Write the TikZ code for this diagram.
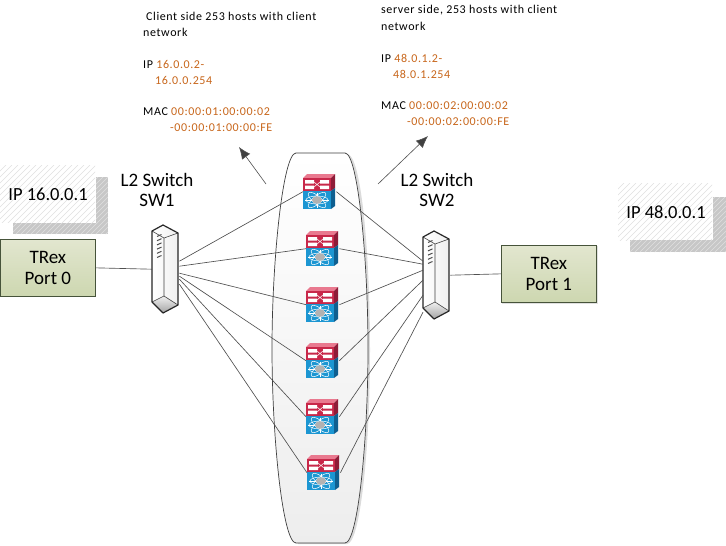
\documentclass[tikz,border=0pt]{standalone}
\usepackage{fontspec}
\setmainfont{Carlito}
\newfontfamily\spacedfont[LetterSpace=5]{Carlito}
\usetikzlibrary{arrows.meta,shadings}
\definecolor{orangetxt}{HTML}{C8661B}
\definecolor{boxtop}{HTML}{E2E6CF}
\definecolor{boxbot}{HTML}{CDD7B0}
\definecolor{boxline}{HTML}{46533A}
\definecolor{wire}{HTML}{505050}
\definecolor{redf}{HTML}{C8284A}
\definecolor{reds}{HTML}{8E1C38}
\definecolor{redt}{HTML}{E9798F}
\definecolor{bluef}{HTML}{1C96D2}
\definecolor{blues}{HTML}{0F5F90}
\tikzset{
  x=1pt,y=-1pt,
  trexbox/.style={draw=boxline,line width=.7pt,top color=boxtop,bottom color=boxbot,minimum width=95pt,minimum height=57pt,inner sep=0pt,font=\fontsize{19}{21}\selectfont,align=center},
  switchbox/.style={minimum width=27pt,minimum height=88pt,inner sep=0pt},
  routerbox/.style={minimum width=33pt,minimum height=35pt,inner sep=0pt},
  wirelink/.style={draw=wire,line width=.65pt},
  bigarrow/.style={draw=wire,line width=.6pt,-{Latex[length=12pt,width=10pt,fill=black!75]}},
  switchlabel/.style={font=\fontsize{19}{20}\selectfont,align=center,inner sep=0pt},
  iplabel/.style={font=\fontsize{18.5}{20}\selectfont,inner sep=0pt},
  smalltext/.style={font=\spacedfont\fontsize{12}{16}\selectfont,anchor=west,inner sep=0pt},
}
\newcommand{\routericon}[3]{%
  \node[routerbox,anchor=north west] (#1) at (#2,#3) {};
  \begin{scope}[shift={(#2,#3)}]
    \fill[redt] (0,4) -- (4,0) -- (32,0) -- (28,4) -- cycle;
    \fill[redf] (0,4) rectangle (28,17);
    \fill[reds] (28,4) -- (32,0) -- (32,14) -- (28,17) -- cycle;
    \fill[white] (2,6) rectangle (11,9.5) (17,6) rectangle (26,9.5) (2,11.5) rectangle (11,15) (17,11.5) rectangle (26,15);
    \draw[white,line width=.5pt] (11,8) -- (17,13) (11,13) -- (17,8);
    \fill[bluef] (0,17) rectangle (28,35);
    \fill[blues] (28,17) -- (32,14) -- (32,32) -- (28,35) -- cycle;
    \draw[white,line width=.5pt] (14,26) ellipse [x radius=11,y radius=4] ;
    \draw[white,line width=.5pt,rotate around={40:(14,26)}] (14,26) ellipse [x radius=11,y radius=4];
    \draw[white,line width=.5pt,rotate around={-40:(14,26)}] (14,26) ellipse [x radius=11,y radius=4];
    \draw[white,line width=.9pt] (2,26) -- (26,26) (14,18.5) -- (14,33.5);
    \fill[black!30] (14,26) ellipse [x radius=5,y radius=3.8];
  \end{scope}}
\newcommand{\switchicon}[3]{%
  \node[switchbox,anchor=north west] (#1) at (#2,#3) {};
  \begin{scope}[shift={(#2,#3)}]
    \shade[left color=white,right color=black!6] (0,6) -- (11,0) -- (26,8) -- (26,80) -- (11,88) -- (0,77) -- cycle;
    \shade[top color=black!6,bottom color=black!35] (0.5,77) -- (12,71) -- (25.5,80) -- (11,87.5) -- cycle;
    \draw[black!75,line width=.6pt] (0,6) -- (12,13) -- (26,8) (12,13) -- (12,71) -- (26,80) (12,71) -- (0,77);
    \draw[black!85,line width=1.2pt,line join=round] (0,6) -- (11,0) -- (26,8) -- (26,80) -- (11,88) -- (0,77) -- cycle;
    \foreach \k in {0,1,2,3,4,5}
      \draw[black!70,line width=1pt] (5,{11.5+\k*4.2}) -- (9.5,{9.5+\k*4.2});
  \end{scope}}
\newcommand{\hatchbox}[4]{%
  \begin{scope}
    \clip (#1,#2) rectangle (#3,#4);
    \foreach \k in {0,6,...,170}
      \draw[black!12,line width=.5pt] ({#1+\k},#2) -- ({#1+\k-60},{#2+60});
  \end{scope}}
\begin{document}
\begin{tikzpicture}
\useasboundingbox (0,0) rectangle (726,546);
\fill[white] (0,0) rectangle (726,546);

% hatched shadows
\hatchbox{0}{165}{95}{222}
\begin{scope}
  \clip (96,177) -- (108,177) -- (108,234) -- (13,234) -- (13,223) -- (96,223) -- cycle;
  \fill[black!22] (13,177) rectangle (108,234);
  \foreach \k in {0,5,...,180} \draw[black!12,line width=.6pt] ({13+\k},177) -- ({13+\k-70},247);
\end{scope}
\hatchbox{618}{183}{712}{240}
\begin{scope}
  \clip (713,197) -- (726,197) -- (726,252) -- (630,252) -- (630,240) -- (713,240) -- cycle;
  \fill[black!22] (630,197) rectangle (726,252);
  \foreach \k in {0,5,...,180} \draw[black!12,line width=.6pt] ({630+\k},197) -- ({630+\k-70},267);
\end{scope}

% central bulge
\fill[black!14] (298,154) -- (347,154) .. controls (362,154) and (370,260) .. (370,350) .. controls (370,450) and (360,544) .. (347,544) -- (298,544) -- cycle;
\shade[top color=white,bottom color=black!7,draw=black!75,line width=.7pt]
  (296,153) -- (345,153) .. controls (358,153) and (368,260) .. (368,348)
  .. controls (368,440) and (358,543) .. (345,543) -- (296,543)
  .. controls (283,543) and (272,440) .. (272,348)
  .. controls (272,260) and (283,153) .. (296,153) -- cycle;

% nodes
\node[trexbox,anchor=north west] (trex0) at (0,239) {TRex\\Port 0};
\fill[black!12] (501.5,302.5) rectangle (598,304);
\fill[black!12] (597,246) rectangle (598,304);
\node[trexbox,anchor=north west] (trex1) at (501,245) {TRex\\Port 1};
\switchicon{sw1}{152}{225}
\switchicon{sw2}{423}{231}
\routericon{r1}{303}{174}
\routericon{r2}{306}{231}
\routericon{r3}{306}{287}
\routericon{r4}{306}{343}
\routericon{r5}{306}{399}
\routericon{r6}{307}{455}

% connectors
\draw[wirelink] (trex0.east) -- (sw1.west);
\draw[wirelink] (trex1.west) -- (sw2.east);
\draw[wirelink] ([yshift=8pt]sw1.east) -- (r1.west);
\draw[wirelink] ([yshift=3pt]sw1.east) -- (r2.west);
\draw[wirelink] ([yshift=-4pt]sw1.east) -- (r3.west);
\draw[wirelink] ([yshift=-7pt]sw1.east) -- (r4.west);
\draw[wirelink] ([yshift=-10pt]sw1.east) -- (r5.west);
\draw[wirelink] ([yshift=-15pt]sw1.east) -- (r6.west);
\draw[wirelink] (r1.east) -- ([yshift=14pt]sw2.west);
\draw[wirelink] (r2.east) -- ([yshift=11pt]sw2.west);
\draw[wirelink] (r3.east) -- ([yshift=5pt]sw2.west);
\draw[wirelink] (r4.east) -- ([yshift=-5pt]sw2.west);
\draw[wirelink] (r5.east) -- ([yshift=-20pt]sw2.west);
\draw[wirelink] (r6.east) -- ([yshift=-37pt]sw2.west);

% arrows
\coordinate (a1s) at (266,184); \coordinate (a1e) at (239,147);
\coordinate (a2s) at (378,184); \coordinate (a2e) at (428,136);
\draw[bigarrow] (a1s) -- (a1e);
\draw[bigarrow] (a2s) -- (a2e);

% labels
\node[iplabel] (ip0) at (48,194) {IP 16.0.0.1};
\node[iplabel] (ip1) at (666,212) {IP 48.0.0.1};
\node[switchlabel] (l1) at (157,190) {L2 Switch\\SW1};
\node[switchlabel] (l2) at (437,190) {L2 Switch\\SW2};

\node[smalltext] (c1) at (146,16) {Client side 253 hosts with client};
\node[smalltext] (c2) at (143,32) {network};
\node[smalltext] (c3) at (143,64) {IP \textcolor{orangetxt}{16.0.0.2-}};
\node[smalltext,text=orangetxt] (c4) at (155,80) {16.0.0.254};
\node[smalltext] (c5) at (143,112) {MAC \textcolor{orangetxt}{00:00:01:00:00:02}};
\node[smalltext,text=orangetxt] (c6) at (170,128) {-00:00:01:00:00:FE};

\node[smalltext] (s1) at (381,10) {server side, 253 hosts with client};
\node[smalltext] (s2) at (381,26) {network};
\node[smalltext] (s3) at (381,58) {IP \textcolor{orangetxt}{48.0.1.2-}};
\node[smalltext,text=orangetxt] (s4) at (393,74) {48.0.1.254};
\node[smalltext] (s5) at (381,106) {MAC \textcolor{orangetxt}{00:00:02:00:00:02}};
\node[smalltext,text=orangetxt] (s6) at (407,122) {-00:00:02:00:00:FE};
\end{tikzpicture}
\end{document}
